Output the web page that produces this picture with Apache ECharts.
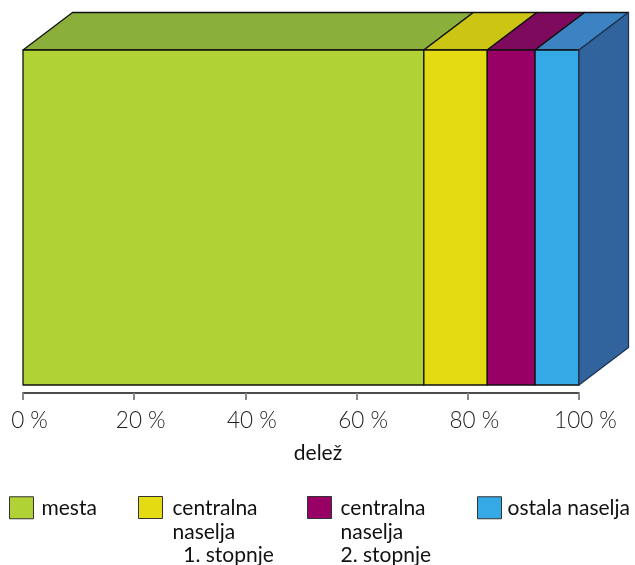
<!DOCTYPE html>
<html>
<head>
<meta charset="utf-8">
<script src="https://cdn.jsdelivr.net/npm/echarts@6/dist/echarts.min.js"></script>
<style>html,body{margin:0;padding:0;background:#fff}#c{width:635px;height:565px}</style>
</head>
<body>
<div id="c"></div>
<script>
var categories = ['delež'];
var seriesNames = ['mesta', 'centralna naselja 1. stopnje', 'centralna naselja 2. stopnje', 'ostala naselja'];
var legendLabels = ['mesta', 'centralna\nnaselja\n\u00a0\u00a01. stopnje', 'centralna\nnaselja\n2. stopnje', 'ostala naselja'];
var shares = [72.1, 11.4, 8.6, 7.9];

var frontColors = ['#B1D235', '#E5DB12', '#990066', '#35A8E6'];
var topColors = ['#8AAF3A', '#CCC514', '#7E0A5E', '#3C83C4'];
var sideColor = '#31639D';
var DX = 49.5, DY = -37.5;
var FONT = 'Lato, "Open Sans", sans-serif';

var chart = echarts.init(document.getElementById('c'));

function makeSeries(i, start) {
  var end = start + shares[i];
  var isLast = i === shares.length - 1;
  return {
    type: 'custom',
    name: seriesNames[i],
    itemStyle: { color: frontColors[i] },
    data: [[start, end, 0]],
    renderItem: function (params, api) {
      var p0 = api.coord([api.value(0), api.value(2)]);
      var p1 = api.coord([api.value(1), api.value(2)]);
      var band = api.size([0, 1])[1];
      var yTop = p0[1] - band / 2;
      var yBot = p0[1] + band / 2;
      var x0 = p0[0], x1 = p1[0];
      var line = { stroke: '#111', lineWidth: 1.3, lineJoin: 'round' };
      var children = [
        { type: 'polygon', shape: { points: [[x0, yTop], [x1, yTop], [x1 + DX, yTop + DY], [x0 + DX, yTop + DY]] },
          style: Object.assign({ fill: topColors[i] }, line) },
        { type: 'rect', shape: { x: x0, y: yTop, width: x1 - x0, height: yBot - yTop },
          style: Object.assign({ fill: frontColors[i] }, line) }
      ];
      if (isLast) {
        children.push({ type: 'polygon', shape: { points: [[x1, yTop], [x1 + DX, yTop + DY], [x1 + DX, yBot + DY], [x1, yBot]] },
          style: Object.assign({ fill: sideColor }, line, { stroke: '#1f3550' }) });
      }
      return { type: 'group', children: children };
    }
  };
}

var series = [];
var acc = 0;
for (var i = 0; i < shares.length; i++) { series.push(makeSeries(i, acc)); acc += shares[i]; }

var legendLefts = [9, 138, 307, 477];
var legendExtra = [3, 5, 4, 1];
var SQ_W = 24, SQ_H = 22, LH = 23.5;
var legends = seriesNames.map(function (n, i) {
  var lines = legendLabels[i].split('\n').length;
  var w = SQ_W + legendExtra[i];
  var h = lines > 1 ? Math.round(LH * lines) : SQ_H;
  var icon = 'path://M0,0 L' + SQ_W + ',0 L' + SQ_W + ',' + SQ_H + ' L0,' + SQ_H + ' Z M' + w + ',' + h + ' L' + w + ',' + h;
  return {
    data: [n], left: legendLefts[i], top: 496, orient: 'horizontal', padding: 0,
    itemWidth: w, itemHeight: h, icon: icon, symbolKeepAspect: false,
    itemStyle: { borderColor: '#333', borderWidth: 1 },
    selectedMode: false,
    formatter: function () { return legendLabels[i]; },
    textStyle: { fontSize: 21, fontFamily: FONT, color: '#111', lineHeight: LH }
  };
});

chart.setOption({
  animation: false,
  grid: { left: 23, right: 56, top: 50, bottom: 180 },
  xAxis: {
    type: 'value', min: 0, max: 100, interval: 20, offset: 8,
    name: 'delež', nameLocation: 'middle', nameGap: 50,
    nameTextStyle: { fontSize: 21, fontFamily: FONT, color: '#111', padding: [0, 0, 0, 34] },
    axisLine: { show: true, lineStyle: { color: '#111', width: 1.5 } },
    axisTick: { show: true, length: 7, lineStyle: { color: '#888', width: 2 } },
    axisLabel: { formatter: '{value} %', fontSize: 22.5, fontFamily: FONT, fontWeight: 300, color: '#222', margin: 16, padding: [0, 0, 0, 13] },
    splitLine: { show: false }
  },
  yAxis: { type: 'category', data: categories, show: false },
  legend: legends,
  series: series
});
</script>
</body>
</html>
